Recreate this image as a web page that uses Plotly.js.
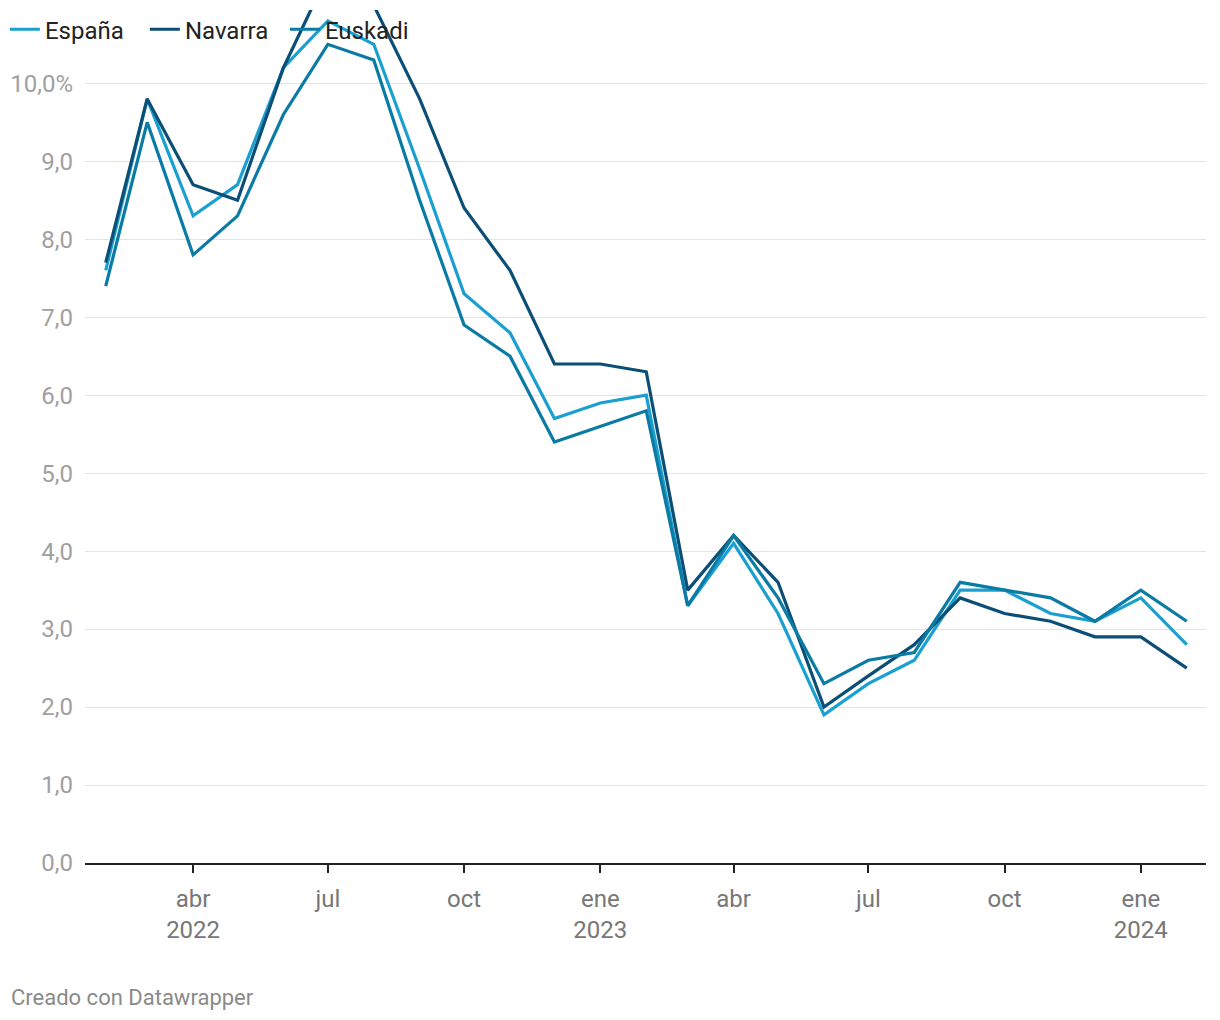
<!DOCTYPE html>
<html>
<head>
<meta charset="utf-8">
<script src="https://cdn.plot.ly/plotly-3.0.1.min.js"></script>
<style>html,body{margin:0;padding:0;background:#fff;}#chart{width:1220px;height:1020px;}</style>
</head>
<body>
<div id="chart"></div>
<script>
const months = ["2022-02-01","2022-03-01","2022-04-01","2022-05-01","2022-06-01","2022-07-01","2022-08-01","2022-09-01","2022-10-01","2022-11-01","2022-12-01","2023-01-01","2023-02-01","2023-03-01","2023-04-01","2023-05-01","2023-06-01","2023-07-01","2023-08-01","2023-09-01","2023-10-01","2023-11-01","2023-12-01","2024-01-01","2024-02-01"];
const espana  = [7.6,9.8,8.3,8.7,10.2,10.8,10.5,8.9,7.3,6.8,5.7,5.9,6.0,3.3,4.1,3.2,1.9,2.3,2.6,3.5,3.5,3.2,3.1,3.4,2.8];
const navarra = [7.7,9.8,8.7,8.5,10.2,11.4,11.0,9.8,8.4,7.6,6.4,6.4,6.3,3.5,4.2,3.6,2.0,2.4,2.8,3.4,3.2,3.1,2.9,2.9,2.5];
const euskadi = [7.4,9.5,7.8,8.3,9.6,10.5,10.3,8.5,6.9,6.5,5.4,5.6,5.8,3.3,4.2,3.4,2.3,2.6,2.7,3.6,3.5,3.4,3.1,3.5,3.1];
const seriesNames = ["España","Navarra","Euskadi"];
const yTickVals = [0,1,2,3,4,5,6,7,8,9,10];
const yTickText = ["0,0","1,0","2,0","3,0","4,0","5,0","6,0","7,0","8,0","9,0","10,0%"];
const xTickVals = ["2022-04-01","2022-07-01","2022-10-01","2023-01-01","2023-04-01","2023-07-01","2023-10-01","2024-01-01"];
const xTickText = ["abr<br>2022","jul","oct","ene<br>2023","abr","jul","oct","ene<br>2024"];
const colors = ["#1aa0d0","#0b4f77","#0a7ba5"];

const data = [espana, navarra, euskadi].map((vals, i) => ({
  x: months, y: vals, type: "scatter", mode: "lines", name: seriesNames[i],
  line: {color: colors[i], width: 3.2}
}));

const layout = {
  width: 1220, height: 1020,
  margin: {l: 85, r: 14, t: 10, b: 157, autoexpand: false},
  paper_bgcolor: "#fff", plot_bgcolor: "#fff",
  font: {family: "Roboto, sans-serif"},
  showlegend: true,
  legend: {orientation: "h", xref: "container", yref: "container", x: 0.004, y: 0.993, xanchor: "left", yanchor: "top",
           font: {size: 24, color: "#222"}, itemwidth: 30, entrywidth: 95, entrywidthmode: "pixels",
           tracegroupgap: 0, bgcolor: "rgba(0,0,0,0)"},
  xaxis: {type: "date", range: ["2022-01-18", "2024-02-14"], tickvals: xTickVals, ticktext: xTickText,
          ticks: "outside", ticklen: 8, tickwidth: 2, tickcolor: "#222", showgrid: false,
          showline: true, linecolor: "#222", linewidth: 2, zeroline: false,
          tickfont: {size: 24, color: "#777"}, ticklabelstandoff: 5},
  yaxis: {range: [0, 10.94], tickvals: yTickVals, ticktext: yTickText, showgrid: true, gridcolor: "#e3e3e3",
          gridwidth: 1, zeroline: false, showline: false, ticks: "", tickfont: {size: 24, color: "#a0a0a0"},
          ticklabelstandoff: 11},
  annotations: [{text: "Creado con Datawrapper", xref: "paper", yref: "paper", x: 0, y: 0, xshift: -76, yshift: -134,
                 xanchor: "left", yanchor: "middle", showarrow: false, font: {size: 22, color: "#8a8a8a"}}]
};
Plotly.newPlot("chart", data, layout, {displayModeBar: false, staticPlot: true});
</script>
</body>
</html>
